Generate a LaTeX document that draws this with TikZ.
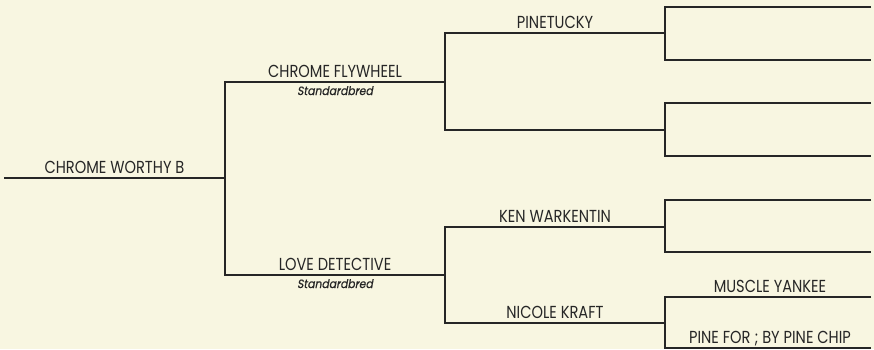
\documentclass[tikz,border=0pt]{standalone}
\usepackage{fontspec}
\setmainfont[FakeStretch=0.84]{Poppins}
\newfontfamily\breedfont[FakeStretch=0.9,FakeSlant=0.18,FakeBold=0.6]{Poppins}
\definecolor{chartbg}{HTML}{F8F6E1}
\definecolor{ink}{HTML}{262626}

\begin{document}
\begin{tikzpicture}[x=1pt,y=-1pt,line width=1.3pt,draw=ink,
  horse/.style={anchor=base,yshift=4.5pt,inner sep=0pt,text=ink,font=\fontsize{17.4}{17.4}\selectfont},
  breed/.style={anchor=base,yshift=-13pt,inner sep=0pt,text=ink,font=\breedfont\fontsize{12}{12}\selectfont}]
  \fill[chartbg] (0,0) rectangle (874,349);
  \useasboundingbox (0,0) rectangle (874,349);
  % subject
  \draw (4,178) -- node[horse] (worthy) {CHROME WORTHY B} (225,178);
  % sire and dam
  \draw (445,82) -- node[horse] (flywheel) {CHROME FLYWHEEL} node[breed] (flywheelbreed) {Standardbred} (225,82)
    -- (225,275) -- node[horse] (detective) {LOVE DETECTIVE} node[breed] (detectivebreed) {Standardbred} (445,275);
  % grandparents
  \draw (665,33) -- node[horse] (pinetucky) {PINETUCKY} (445,33) -- (445,130) -- (665,130);
  \draw (665,227) -- node[horse] (ken) {KEN WARKENTIN} (445,227) -- (445,323)
    -- node[horse] (nicole) {NICOLE KRAFT} (665,323);
  % great grandparents
  \foreach \ya/\yb in {7/60,103/156,200/252}
    \draw (871,\ya) -- (665,\ya) -- (665,\yb) -- (871,\yb);
  \draw (871,297) -- node[horse,xshift=2pt] (muscle) {MUSCLE YANKEE} (665,297) -- (665,348)
    -- node[horse,xshift=2pt] (pinefor) {PINE FOR ; BY PINE CHIP} (871,348);
\end{tikzpicture}
\end{document}
